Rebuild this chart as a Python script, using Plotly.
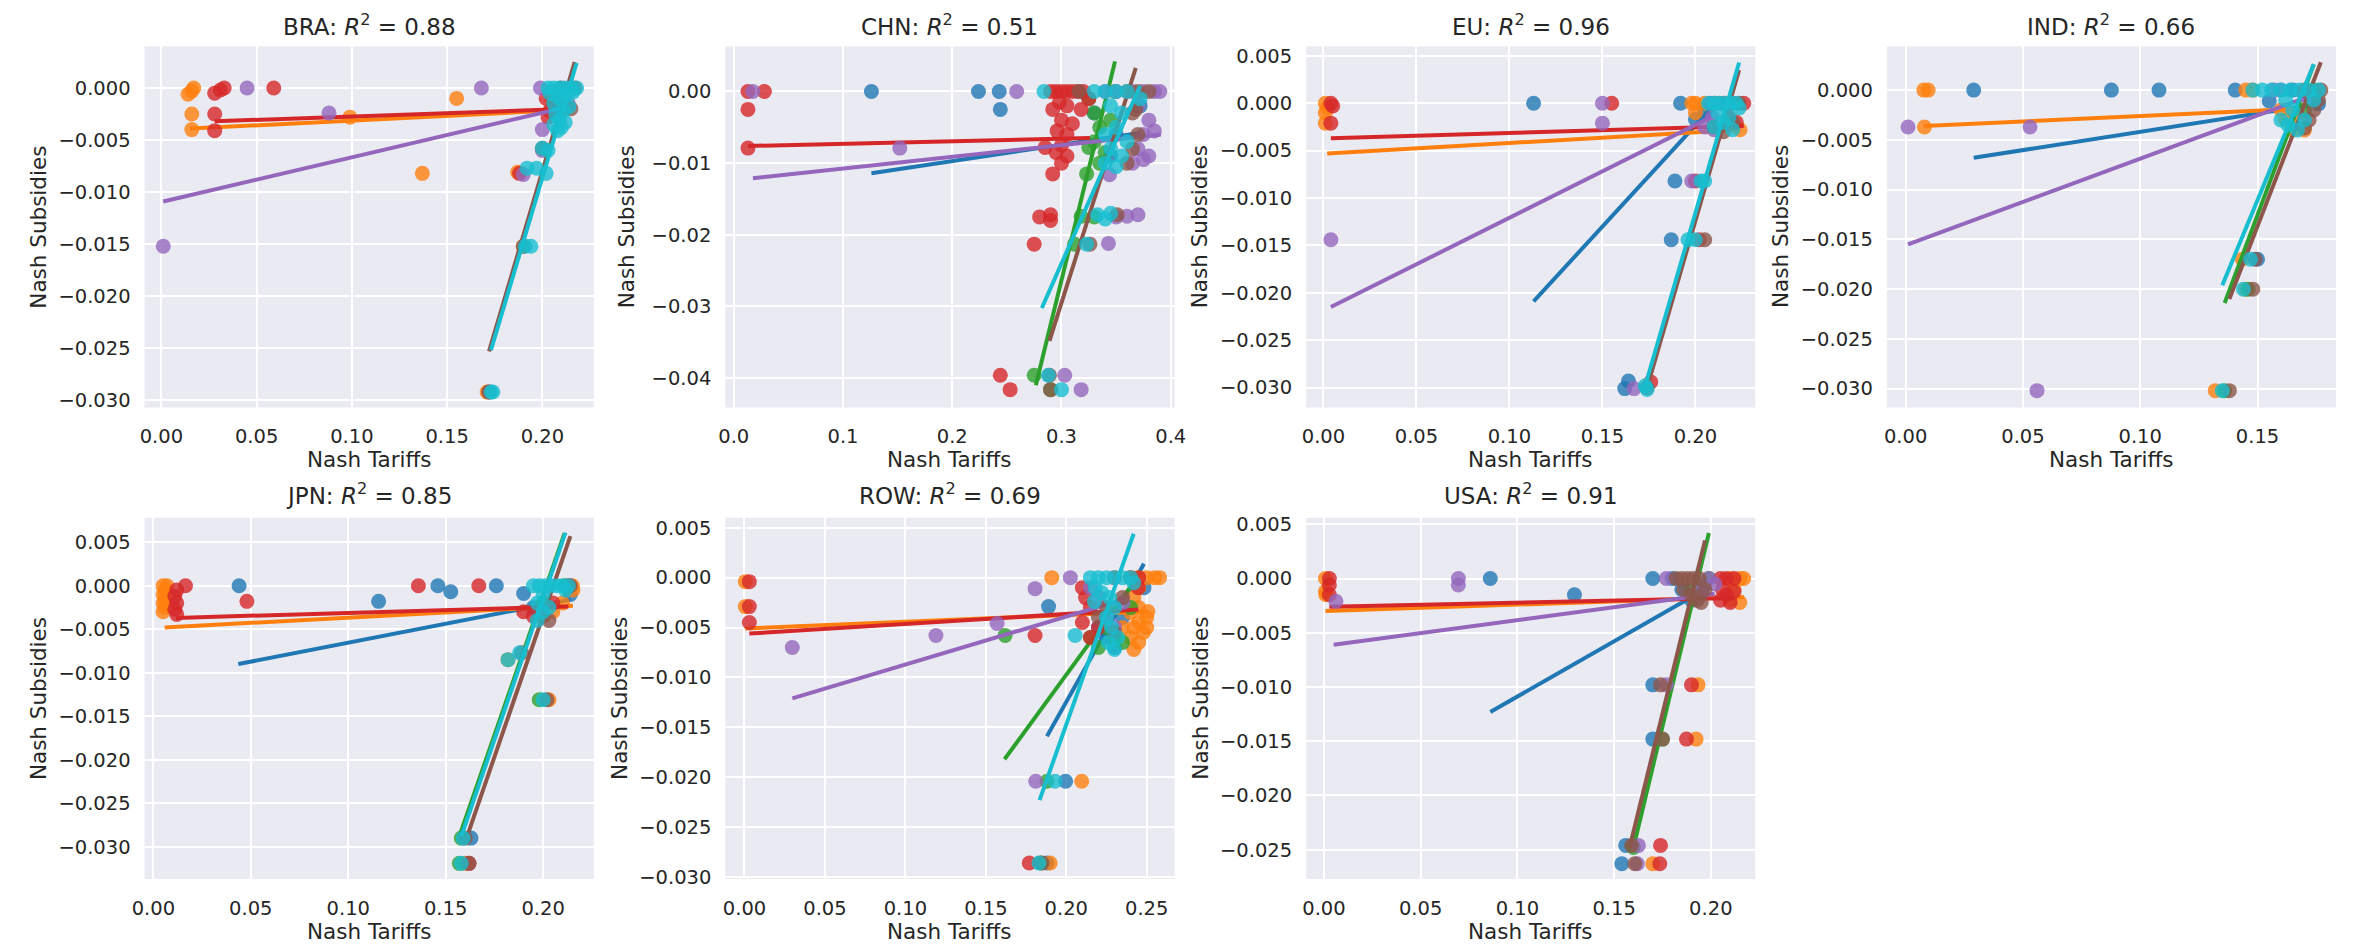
import plotly.graph_objects as go

# ---------------------------------------------------------------- data
PANELS = ["BRA", "CHN", "EU", "IND", "JPN", "ROW", "USA"]
R2 = [0.88, 0.51, 0.96, 0.66, 0.85, 0.69, 0.91]
SERIES = ["blue", "orange", "green", "red", "purple", "brown", "cyan"]

# (Nash tariff, Nash subsidy) pairs per series
BRA_PTS = {
    "orange": [(0.014, -0.0006), (0.016, -0.0003), (0.017, 0.0), (0.016, -0.0025), (0.016, -0.004),
               (0.099, -0.0028), (0.137, -0.0082), (0.155, -0.001), (0.187, -0.0081), (0.19, -0.0152),
               (0.171, -0.0292), (0.205, -0.001), (0.21, -0.002)],
    "red": [(0.028, -0.0005), (0.031, -0.0002), (0.033, 0.0), (0.059, 0.0), (0.028, -0.0025), (0.028, -0.0041),
            (0.188, -0.0082), (0.172, -0.0292), (0.202, -0.001), (0.203, -0.0028), (0.205, -0.002),
            (0.207, -0.0012), (0.204, -0.0022)],
    "purple": [(0.001, -0.0152), (0.045, 0.0), (0.088, -0.0024), (0.168, 0.0), (0.19, -0.0083), (0.199, 0.0),
               (0.2, -0.006), (0.2, -0.004), (0.2135, -0.0015)],
    "brown": [(0.172, -0.0292), (0.19, -0.0152), (0.2, -0.0058), (0.21, 0.0), (0.215, -0.002), (0.217, 0.0)],
    "cyan": [(0.203, 0.0), (0.206, 0.0), (0.209, 0.0), (0.212, 0.0), (0.215, 0.0), (0.218, 0.0),
             (0.204, -0.0005), (0.208, -0.0008), (0.213, -0.0006), (0.216, -0.0004), (0.206, -0.0015),
             (0.21, -0.0012), (0.214, -0.0018), (0.207, -0.0025), (0.211, -0.0022), (0.209, -0.003),
             (0.212, -0.0033), (0.206, -0.0035), (0.21, -0.0038), (0.208, -0.0041), (0.203, -0.006),
             (0.2, -0.0058), (0.197, -0.0077), (0.192, -0.0077), (0.202, -0.0082), (0.194, -0.0152),
             (0.191, -0.0152), (0.173, -0.0292), (0.174, -0.0292)],
}
CHN_PTS = {
    "blue": [(0.126, 0.0), (0.224, 0.0), (0.243, 0.0), (0.244, -0.0025), (0.33, -0.003), (0.35, -0.006),
             (0.345, -0.009), (0.372, -0.002)],
    "green": [(0.325, -0.001), (0.33, -0.003), (0.335, -0.005), (0.33, -0.007), (0.325, -0.0078),
              (0.34, -0.0085), (0.335, -0.01), (0.323, -0.0115), (0.33, -0.0175), (0.318, -0.0174),
              (0.312, -0.0213), (0.275, -0.0396), (0.29, -0.0416), (0.345, -0.004), (0.349, 0.0)],
    "red": [(0.013, 0.0), (0.028, 0.0), (0.013, -0.0025), (0.013, -0.0079), (0.29, 0.0), (0.295, 0.0),
            (0.3, 0.0), (0.305, 0.0), (0.31, 0.0), (0.315, 0.0), (0.32, 0.0), (0.325, -0.001),
            (0.298, -0.0015), (0.305, -0.002), (0.318, -0.0025), (0.292, -0.0025), (0.3, -0.004),
            (0.31, -0.0045), (0.296, -0.0055), (0.305, -0.006), (0.3, -0.0075), (0.285, -0.0078),
            (0.295, -0.0085), (0.305, -0.009), (0.3, -0.01), (0.292, -0.0115), (0.28, -0.0175),
            (0.29, -0.0172), (0.29, -0.018), (0.275, -0.0213), (0.244, -0.0396), (0.253, -0.0416)],
    "purple": [(0.0175, 0.0), (0.259, 0.0), (0.152, -0.0079), (0.344, -0.0116), (0.36, -0.0174),
               (0.343, -0.0212), (0.303, -0.0396), (0.318, -0.0416), (0.34, 0.0), (0.35, 0.0),
               (0.365, 0.0), (0.375, 0.0), (0.385, 0.0), (0.39, 0.0), (0.37, -0.002), (0.38, -0.004),
               (0.375, -0.006), (0.385, -0.0055), (0.37, -0.008), (0.38, -0.009), (0.365, -0.01),
               (0.375, -0.0095), (0.37, -0.0172), (0.35, -0.0175)],
    "brown": [(0.316, 0.0), (0.36, 0.0), (0.37, 0.0), (0.38, 0.0), (0.365, -0.003), (0.37, -0.006),
              (0.365, -0.008), (0.36, -0.01), (0.351, -0.0172), (0.326, -0.0213), (0.289, -0.0396),
              (0.29, -0.0416), (0.368, -0.0025)],
    "cyan": [(0.284, 0.0), (0.33, 0.0), (0.34, 0.0), (0.35, 0.0), (0.36, 0.0), (0.345, -0.002),
             (0.355, -0.003), (0.35, -0.005), (0.34, -0.006), (0.36, -0.007), (0.345, -0.008),
             (0.355, -0.009), (0.34, -0.01), (0.35, -0.0105), (0.333, -0.0172), (0.345, -0.017),
             (0.34, -0.0178), (0.323, -0.0213), (0.288, -0.0396), (0.3, -0.0416), (0.372, -0.001)],
}
EU_PTS = {
    "blue": [(0.113, 0.0), (0.192, 0.0), (0.189, -0.0082), (0.187, -0.0144), (0.162, -0.0301),
             (0.164, -0.0293), (0.2, -0.0017), (0.205, -0.001), (0.211, 0.0)],
    "orange": [(0.001, 0.0), (0.002, -0.0005), (0.001, -0.001), (0.001, -0.0021), (0.198, 0.0),
               (0.2, 0.0), (0.205, 0.0), (0.21, 0.0), (0.2, -0.001), (0.224, -0.0028)],
    "red": [(0.004, 0.0), (0.005, -0.0003), (0.004, -0.0021), (0.155, 0.0), (0.2, -0.0082),
            (0.202, -0.0144), (0.176, -0.0294), (0.215, 0.0), (0.22, 0.0), (0.226, 0.0),
            (0.218, -0.0015), (0.222, -0.002)],
    "purple": [(0.004, -0.0144), (0.15, 0.0), (0.15, -0.0021), (0.198, -0.0082), (0.167, -0.0301),
               (0.205, -0.0025), (0.21, -0.0028), (0.208, 0.0), (0.209, -0.0015)],
    "brown": [(0.174, -0.03), (0.205, -0.0144), (0.21, -0.0025), (0.215, -0.003), (0.22, -0.002),
              (0.2235, 0.0)],
    "cyan": [(0.173, -0.0298), (0.174, -0.0302), (0.196, -0.0144), (0.2, -0.0144), (0.203, -0.0082),
             (0.205, -0.0082), (0.207, 0.0), (0.21, 0.0), (0.213, 0.0), (0.216, 0.0), (0.219, 0.0),
             (0.222, 0.0), (0.212, -0.001), (0.218, -0.0015), (0.215, -0.002), (0.21, -0.0025),
             (0.22, -0.0028), (0.2235, -0.0005)],
}
IND_PTS = {
    "blue": [(0.029, 0.0), (0.0877, 0.0), (0.108, 0.0), (0.1405, 0.0), (0.155, -0.0011), (0.176, -0.0014),
             (0.165, 0.0), (0.15, -0.017)],
    "orange": [(0.0077, 0.0), (0.0096, 0.0), (0.008, -0.0037), (0.145, 0.0), (0.148, 0.0), (0.16, -0.002),
               (0.162, -0.003), (0.165, -0.004), (0.17, -0.004), (0.166, -0.0025), (0.1435, -0.017),
               (0.132, -0.0302), (0.145, -0.02)],
    "green": [(0.136, -0.0302), (0.146, -0.02), (0.17, -0.002), (0.174, 0.0)],
    "purple": [(0.001, -0.0037), (0.053, -0.0037), (0.056, -0.0302), (0.157, 0.0), (0.16, 0.0),
               (0.17, -0.0005), (0.1745, -0.001)],
    "brown": [(0.138, -0.0302), (0.148, -0.02), (0.149, -0.017), (0.17, -0.0038), (0.172, -0.003),
              (0.174, -0.002), (0.176, -0.001), (0.177, 0.0), (0.17, 0.0)],
    "cyan": [(0.148, 0.0), (0.152, 0.0), (0.156, 0.0), (0.16, 0.0), (0.164, 0.0), (0.168, 0.0),
             (0.172, 0.0), (0.176, 0.0), (0.162, -0.001), (0.165, -0.002), (0.16, -0.003),
             (0.163, -0.0035), (0.167, -0.004), (0.17, -0.003), (0.147, -0.017), (0.144, -0.02),
             (0.135, -0.0302), (0.174, -0.001)],
}
JPN_PTS = {
    "blue": [(0.044, 0.0), (0.1156, -0.0018), (0.146, 0.0), (0.1526, -0.0007), (0.176, 0.0),
             (0.19, -0.0009), (0.163, -0.029), (0.195, -0.0025), (0.214, -0.001)],
    "orange": [(0.005, 0.0), (0.006, -0.0005), (0.005, -0.001), (0.006, -0.0015), (0.005, -0.002),
               (0.006, -0.0025), (0.005, -0.003), (0.007, 0.0), (0.182, -0.0085), (0.203, -0.0131),
               (0.215, 0.0), (0.21, -0.002), (0.205, -0.003), (0.16, -0.0319), (0.2153, -0.0005)],
    "green": [(0.198, -0.0131), (0.157, -0.0319), (0.158, -0.029), (0.2, -0.002), (0.211, 0.0)],
    "red": [(0.0165, 0.0), (0.012, -0.0005), (0.011, -0.0012), (0.012, -0.002), (0.011, -0.0027),
            (0.012, -0.0033), (0.048, -0.0018), (0.136, 0.0), (0.167, 0.0), (0.19, -0.003),
            (0.195, -0.0035), (0.213, 0.0), (0.205, -0.002), (0.162, -0.0319)],
    "brown": [(0.189, -0.0077), (0.162, -0.0319), (0.202, -0.0131), (0.2, -0.0035), (0.203, -0.004),
              (0.214, 0.0), (0.16, -0.029)],
    "cyan": [(0.195, 0.0), (0.198, 0.0), (0.201, 0.0), (0.204, 0.0), (0.207, 0.0), (0.21, 0.0),
             (0.213, 0.0), (0.2, -0.001), (0.197, -0.002), (0.2, -0.003), (0.197, -0.004),
             (0.203, -0.0025), (0.182, -0.0085), (0.188, -0.0077), (0.2, -0.0131), (0.159, -0.029),
             (0.158, -0.0319), (0.2115, -0.0005)],
}
ROW_PTS = {
    "blue": [(0.189, -0.0029), (0.1996, -0.0204), (0.22, -0.005), (0.225, -0.006), (0.23, -0.007),
             (0.235, -0.004), (0.2483, -0.001), (0.188, -0.0286)],
    "orange": [(0.0005, -0.0004), (0.0005, -0.0029), (0.191, 0.0), (0.2096, -0.0204), (0.19, -0.0286),
               (0.24, 0.0), (0.245, 0.0), (0.25, 0.0), (0.255, 0.0), (0.258, 0.0), (0.245, -0.001),
               (0.242, -0.002), (0.245, -0.003), (0.24, -0.0035), (0.25, -0.004), (0.245, -0.0045),
               (0.242, -0.005), (0.248, -0.0055), (0.24, -0.006), (0.245, -0.0065), (0.242, -0.0072),
               (0.25, -0.005), (0.235, -0.005), (0.2507, -0.0034)],
    "green": [(0.162, -0.0058), (0.188, -0.0204), (0.184, -0.0286), (0.215, -0.006), (0.22, -0.007),
              (0.225, -0.005), (0.23, -0.006), (0.235, -0.0065), (0.24, -0.003)],
    "red": [(0.003, -0.0004), (0.003, -0.0029), (0.003, -0.0045), (0.1806, -0.0058), (0.177, -0.0286),
            (0.21, -0.001), (0.212, -0.002), (0.215, -0.003), (0.21, -0.0045), (0.22, -0.005),
            (0.215, -0.006), (0.23, 0.0), (0.24, 0.0), (0.245, 0.0), (0.2448, -0.001)],
    "purple": [(0.0297, -0.007), (0.119, -0.0058), (0.157, -0.0046), (0.1806, -0.0011), (0.181, -0.0204),
               (0.2025, 0.0), (0.215, -0.001), (0.22, -0.002), (0.225, -0.004), (0.23, -0.005),
               (0.2352, -0.0025)],
    "brown": [(0.22, -0.004), (0.225, -0.003), (0.23, -0.0055), (0.185, -0.0286), (0.235, -0.002)],
    "cyan": [(0.2055, -0.0058), (0.2175, -0.0024), (0.193, -0.0204), (0.183, -0.0286), (0.215, 0.0),
             (0.22, 0.0), (0.225, 0.0), (0.23, 0.0), (0.235, 0.0), (0.24, 0.0), (0.218, -0.001),
             (0.222, -0.0015), (0.227, -0.002), (0.23, -0.003), (0.225, -0.004), (0.228, -0.005),
             (0.232, -0.006), (0.226, -0.0065), (0.23, -0.0072), (0.2419, -0.0005)],
}
USA_PTS = {
    "blue": [(0.086, 0.0), (0.1295, -0.0015), (0.17, 0.0), (0.17, -0.0098), (0.17, -0.0148),
             (0.156, -0.0246), (0.154, -0.0263), (0.18, 0.0), (0.185, -0.001), (0.19, -0.002),
             (0.196, -0.0008)],
    "orange": [(0.0008, 0.0), (0.0008, -0.0012), (0.001, -0.0015), (0.1934, -0.0098), (0.1924, -0.0148),
               (0.17, -0.0263), (0.21, 0.0), (0.215, 0.0), (0.217, 0.0), (0.212, -0.001), (0.21, -0.002),
               (0.215, -0.0022)],
    "green": [(0.16, -0.0248), (0.175, -0.0148), (0.19, -0.001), (0.199, 0.0)],
    "red": [(0.0028, 0.0), (0.0028, -0.0006), (0.0028, -0.0015), (0.19, -0.0098), (0.1874, -0.0148),
            (0.174, -0.0246), (0.1736, -0.0263), (0.205, 0.0), (0.208, 0.0), (0.212, 0.0),
            (0.206, -0.001), (0.208, -0.0015), (0.205, -0.002), (0.21, -0.0022), (0.212, -0.0012)],
    "purple": [(0.0062, -0.0021), (0.0695, 0.0), (0.0695, -0.0006), (0.177, 0.0), (0.199, 0.0),
               (0.177, -0.0098), (0.1626, -0.0246), (0.162, -0.0263), (0.195, -0.001), (0.202, -0.0005)],
    "brown": [(0.174, -0.0098), (0.175, -0.0148), (0.159, -0.0246), (0.1607, -0.0263), (0.182, 0.0),
              (0.185, 0.0), (0.188, 0.0), (0.191, 0.0), (0.194, 0.0), (0.186, -0.001), (0.19, -0.0015),
              (0.193, -0.002), (0.195, -0.0022), (0.197, -0.001)],
}

# fitted regression lines per series: (x_start, y_start, x_end, y_end)
BRA_FIT = {"orange": (0.015, -0.0039, 0.214, -0.0021), "red": (0.028, -0.0032, 0.216, -0.002),
           "purple": (0.001, -0.0109, 0.2135, -0.0018), "brown": (0.172, -0.0253, 0.217, 0.0025),
           "cyan": (0.173, -0.0252, 0.218, 0.0024)}
CHN_FIT = {"blue": (0.126, -0.0114, 0.372, -0.0058), "green": (0.2765, -0.041, 0.349, 0.0042),
           "red": (0.013, -0.0076, 0.326, -0.0065), "purple": (0.0175, -0.0121, 0.391, -0.006),
           "brown": (0.289, -0.0348, 0.368, 0.0033), "cyan": (0.282, -0.0302, 0.372, 0.0008)}
EU_FIT = {"blue": (0.113, -0.0209, 0.211, 0.0), "orange": (0.002, -0.0053, 0.224, -0.0028),
          "red": (0.004, -0.0037, 0.226, -0.0024), "purple": (0.004, -0.0215, 0.209, -0.0014),
          "brown": (0.174, -0.030, 0.2235, 0.0035), "cyan": (0.173, -0.0298, 0.2235, 0.0043)}
IND_FIT = {"blue": (0.029, -0.0068, 0.176, -0.0014), "orange": (0.0077, -0.0036, 0.166, -0.0019),
           "green": (0.136, -0.0214, 0.174, 0.0026), "purple": (0.001, -0.0155, 0.1745, -0.0004),
           "brown": (0.138, -0.021, 0.177, 0.0028), "cyan": (0.135, -0.0196, 0.174, 0.0026)}
JPN_FIT = {"blue": (0.0436, -0.009, 0.214, -0.0016), "orange": (0.0058, -0.0048, 0.2153, -0.0023),
           "green": (0.157, -0.0288, 0.211, 0.006), "red": (0.0116, -0.0037, 0.213, -0.0024),
           "brown": (0.1607, -0.029, 0.214, 0.0057), "cyan": (0.158, -0.0288, 0.2115, 0.0061)}
ROW_FIT = {"blue": (0.188, -0.0159, 0.2483, 0.0014), "orange": (0.0005, -0.0051, 0.2507, -0.0034),
           "green": (0.1616, -0.0182, 0.24, -0.0009), "red": (0.003, -0.0056, 0.2448, -0.0032),
           "purple": (0.0297, -0.0121, 0.2352, -0.0022), "cyan": (0.1834, -0.0223, 0.2419, 0.0044)}
USA_FIT = {"blue": (0.086, -0.0123, 0.196, -0.0011), "orange": (0.0008, -0.003, 0.217, -0.0017),
           "green": (0.16, -0.0248, 0.199, 0.0042), "red": (0.0028, -0.0026, 0.212, -0.0018),
           "purple": (0.005, -0.0061, 0.202, -0.0014), "brown": (0.158, -0.0248, 0.197, 0.0035)}

POINTS = [BRA_PTS, CHN_PTS, EU_PTS, IND_PTS, JPN_PTS, ROW_PTS, USA_PTS]
FITS = [BRA_FIT, CHN_FIT, EU_FIT, IND_FIT, JPN_FIT, ROW_FIT, USA_FIT]

X_RANGES = [(-0.0088, 0.227), (-0.0077, 0.4035), (-0.0093, 0.2322), (-0.008, 0.1835),
            (-0.0045, 0.226), (-0.0119, 0.2673), (-0.0092, 0.223)]
Y_RANGES = [(-0.0307, 0.004), (-0.0441, 0.0063), (-0.0321, 0.006), (-0.0319, 0.0044),
            (-0.0337, 0.0078), (-0.0302, 0.006), (-0.0277, 0.0056)]
X_DTICK = [0.05, 0.1, 0.05, 0.05, 0.05, 0.05, 0.05]
Y_DTICK = [0.005, 0.01, 0.005, 0.005, 0.005, 0.005, 0.005]
X_FMT = [".2f", ".1f", ".2f", ".2f", ".2f", ".2f", ".2f"]
Y_FMT = [".3f", ".2f", ".3f", ".3f", ".3f", ".3f", ".3f"]

# ---------------------------------------------------------------- style
COLORS = {"blue": "#1f77b4", "orange": "#ff7f0e", "green": "#2ca02c", "red": "#d62728",
          "purple": "#9467bd", "brown": "#8c564b", "cyan": "#17becf"}
W, H = 2356, 952
AX_W, AX_H = 454, 367
COL_LEFT = [133, 720, 1307, 1894]
ROW_TOP = [42, 521]
TITLE_Y = [20, 497]
TEXT = "#262626"
FONT = "DejaVu Sans"
TICK_SIZE, LABEL_SIZE, TITLE_SIZE = 19.5, 21.5, 23

fig = go.Figure()
layout = dict(width=W, height=H, margin=dict(l=0, r=0, t=0, b=0),
              paper_bgcolor="white", plot_bgcolor="#EAEAF2", showlegend=False,
              font=dict(family=FONT, color=TEXT, size=TICK_SIZE))
annotations = []

for i, name in enumerate(PANELS):
    row, col = divmod(i, 4)
    left, top = COL_LEFT[col], ROW_TOP[row]
    xa = "x" if i == 0 else f"x{i + 1}"
    ya = "y" if i == 0 else f"y{i + 1}"
    xkey = "xaxis" if i == 0 else f"xaxis{i + 1}"
    ykey = "yaxis" if i == 0 else f"yaxis{i + 1}"

    layout[xkey] = dict(domain=[left / W, (left + AX_W) / W], anchor=ya, range=list(X_RANGES[i]),
                        tick0=0, dtick=X_DTICK[i], tickformat=X_FMT[i], showgrid=True,
                        gridcolor="white", gridwidth=2, zeroline=False, showline=False,
                        ticks="", ticklabelstandoff=15, tickfont=dict(size=TICK_SIZE, color=TEXT))
    layout[ykey] = dict(domain=[1 - (top + AX_H) / H, 1 - top / H], anchor=xa, range=list(Y_RANGES[i]),
                        tick0=0, dtick=Y_DTICK[i], tickformat=Y_FMT[i], showgrid=True,
                        gridcolor="white", gridwidth=2, zeroline=False, showline=False,
                        ticks="", ticklabelstandoff=13, tickfont=dict(size=TICK_SIZE, color=TEXT))

    pts, fits = POINTS[i], FITS[i]
    for s in SERIES:
        if s in pts:
            xs = [p[0] for p in pts[s]]
            ys = [p[1] for p in pts[s]]
            fig.add_trace(go.Scatter(x=xs, y=ys, mode="markers", xaxis=xa, yaxis=ya,
                                     marker=dict(size=15, color=COLORS[s], opacity=0.8,
                                                 line=dict(width=0)),
                                     hoverinfo="skip"))
        if s in fits:
            x0, y0, x1, y1 = fits[s]
            fig.add_trace(go.Scatter(x=[x0, x1], y=[y0, y1], mode="lines", xaxis=xa, yaxis=ya,
                                     line=dict(color=COLORS[s], width=4), hoverinfo="skip"))

    cx = (left + AX_W / 2) / W
    annotations.append(dict(text=f"{name}: <i>R</i><sup>2</sup> = {R2[i]:.2f}", x=cx,
                            y=1 - TITLE_Y[row] / H, xref="paper", yref="paper",
                            xanchor="center", yanchor="middle", showarrow=False,
                            font=dict(size=TITLE_SIZE, color=TEXT, family=FONT)))
    annotations.append(dict(text="Nash Tariffs", x=cx, y=1 - (top + AX_H + 53) / H,
                            xref="paper", yref="paper", xanchor="center", yanchor="middle",
                            showarrow=False, font=dict(size=LABEL_SIZE, color=TEXT, family=FONT)))
    ylab_off = 99 if Y_FMT[i] == ".2f" else 107
    annotations.append(dict(text="Nash Subsidies", x=(left - ylab_off) / W, y=1 - (top + AX_H / 2) / H,
                            xref="paper", yref="paper", xanchor="center", yanchor="middle",
                            textangle=-90, showarrow=False,
                            font=dict(size=LABEL_SIZE, color=TEXT, family=FONT)))

layout["annotations"] = annotations
fig.update_layout(**layout)
fig.write_html("out.html")
